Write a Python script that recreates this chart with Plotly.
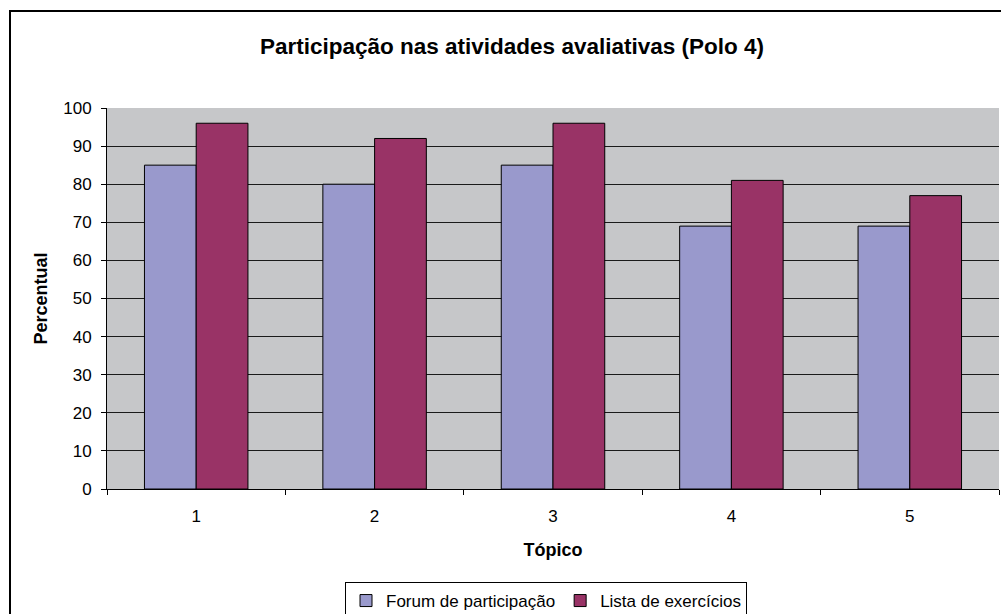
import plotly.graph_objects as go

categories = ["1", "2", "3", "4", "5"]
forum = [85, 80, 85, 69, 69]
lista = [96, 92, 96, 81, 77]
series_names = ["Forum de participação", "Lista de exercícios"]
yticks = [0, 10, 20, 30, 40, 50, 60, 70, 80, 90, 100]

W, H = 1001, 614
L, R, T, B = 107, 2, 108, 125
pw = W - L - R
ph = H - T - B

font = "Liberation Sans, Arial, sans-serif"

fig = go.Figure()
fig.add_trace(go.Bar(x=categories, y=forum, name=series_names[0],
                     marker=dict(color="#9999CC", line=dict(color="#000000", width=1))))
fig.add_trace(go.Bar(x=categories, y=lista, name=series_names[1],
                     marker=dict(color="#993366", line=dict(color="#000000", width=1))))

def px_x(x):
    return (x - L) / pw

def px_y(y):
    return (H - B - y) / ph

fig.add_shape(type="rect", xref="paper", yref="paper",
              x0=px_x(10), x1=px_x(1030), y0=px_y(640), y1=px_y(11),
              line=dict(color="#000000", width=2), fillcolor="rgba(0,0,0,0)", layer="below")

fig.update_layout(
    width=W, height=H,
    margin=dict(l=L, r=R, t=T, b=B, autoexpand=False),
    paper_bgcolor="#FFFFFF",
    plot_bgcolor="#C6C7C9",
    bargap=0.42, bargroupgap=0,
    font=dict(family=font, size=17, color="#000000"),
    title=dict(text="<b>Participação nas atividades avaliativas (Polo 4)</b>",
               xref="paper", x=px_x(512), xanchor="center",
               yref="container", y=1 - 46 / H, yanchor="middle",
               font=dict(family=font, size=22.5, color="#000000")),
    xaxis=dict(title=dict(text="<b>Tópico</b>", font=dict(size=18), standoff=17),
               tickson="boundaries", ticks="outside", ticklen=5, tickcolor="#000000",
               showline=True, linecolor="#000000", linewidth=1,
               tickfont=dict(size=17), ticklabelstandoff=12, showgrid=False),
    yaxis=dict(title=dict(text="<b>Percentual</b>", font=dict(size=18), standoff=10),
               range=[0, 100], tickvals=yticks, ticks="outside", ticklen=5,
               tickcolor="#000000", showline=True, linecolor="#000000", linewidth=1,
               showgrid=True, gridcolor="#1A1A1A", gridwidth=1, zeroline=False,
               tickfont=dict(size=17), ticklabelstandoff=6),
    legend=dict(orientation="h", xref="container", x=546 / W, xanchor="center",
                yref="container", y=1 - 582 / H, yanchor="top",
                bordercolor="#000000", borderwidth=1, bgcolor="#FFFFFF",
                font=dict(size=17), itemwidth=30, tracegroupgap=0),
    showlegend=True,
)

fig.write_html("out.html", config={"displayModeBar": False},
               post_script="document.body.style.margin='0';")
